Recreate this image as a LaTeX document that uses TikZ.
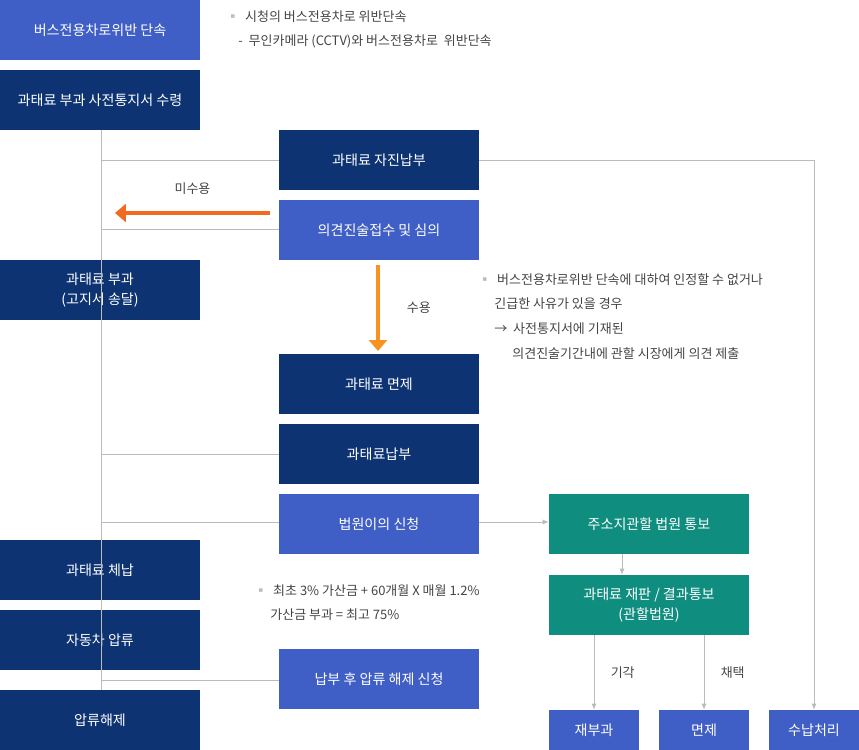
\documentclass[tikz,border=0pt]{standalone}
\usepackage{fontspec}
\setmainfont{Noto Sans CJK KR}
\usetikzlibrary{arrows.meta}
\definecolor{navy}{HTML}{0D3372}
\definecolor{lblue}{HTML}{3F5EC6}
\definecolor{teal}{HTML}{0F8E80}
\definecolor{orng}{HTML}{F26A21}
\definecolor{orng2}{HTML}{F7931E}
\definecolor{lgray}{HTML}{BBBBBB}
\definecolor{txt}{HTML}{444444}
\begin{document}
\begin{tikzpicture}[x=0.02cm,y=-0.02cm,
box/.style={minimum width=4cm,minimum height=1.2cm,text=white,font=\fontsize{8}{11}\selectfont,align=center,inner sep=0pt},
sbox/.style={minimum width=1.8cm,minimum height=0.8cm,text=white,font=\fontsize{8}{11}\selectfont,inner sep=0pt,fill=lblue},
note/.style={anchor=west,text=txt,font=\fontsize{7.4}{10}\selectfont,inner sep=0pt},
link/.style={draw=lgray,line width=0.4pt},
tip/.style={link,-{Latex[length=1.2mm,width=1mm]}}]
\useasboundingbox (0,0) rectangle (859,750);
% left column
\node[box,fill=lblue] (b1) at (100,30) {버스전용차로위반 단속};
\node[box,fill=navy] (b2) at (100,100) {과태료 부과 사전통지서 수령};
\node[box,fill=navy] (b5) at (100,290) {과태료 부과\\(고지서 송달)};
\node[box,fill=navy] (b10) at (100,570) {과태료 체납};
\node[box,fill=navy] (b12) at (100,640) {자동차 압류};
\node[box,fill=navy] (b14) at (100,720) {압류해제};
% middle column
\node[box,fill=navy] (b3) at (379,160) {과태료 자진납부};
\node[box,fill=lblue] (b4) at (379,230) {의견진술접수 및 심의};
\node[box,fill=navy] (b6) at (379,384) {과태료 면제};
\node[box,fill=navy] (b7) at (379,454) {과태료납부};
\node[box,fill=lblue] (b8) at (379,524) {법원이의 신청};
\node[box,fill=lblue] (b13) at (379,679) {납부 후 압류 해제 신청};
% right column
\node[box,fill=teal] (b9) at (649,524) {주소지관할 법원 통보};
\node[box,fill=teal] (b11) at (649,605) {과태료 재판 / 결과통보\\(관할법원)};
\node[sbox] (b15) at (594,730) {재부과};
\node[sbox] (b16) at (704,730) {면제};
\node[sbox] (b17) at (814,730) {수납처리};
% connectors
\coordinate (top) at (101,130);
\coordinate (bot) at (101,690);
\draw[link] (top) -- (bot);
\draw[link] (101,160) -- (b3.west);
\draw[link] (101,229) -- (b4.west |- 0,229);
\draw[link] (101,454) -- (b7.west);
\draw[link] (101,522) -- (b8.west |- 0,522);
\draw[link] (101,680) -- (b13.west |- 0,680);
\draw[tip] (b3.east) -| (b17.north);
\draw[tip] (b8.east |- 0,522) -- (b9.west |- 0,522);
\draw[tip] (b9.south -| 622,0) -- (b11.north -| 622,0);
\draw[tip] (b11.south -| b15.north) -- node[right=6pt,text=txt,font=\fontsize{7.4}{10}\selectfont]{기각} (b15.north);
\draw[tip] (b11.south -| b16.north) -- node[right=6pt,text=txt,font=\fontsize{7.4}{10}\selectfont]{채택} (b16.north);
\coordinate (ol) at (115,213);
\draw[orng,line width=2.2pt,-{Triangle[length=2.2mm,width=3.6mm]}] (270,213) -- node[above=6pt,text=txt,font=\fontsize{7.4}{10}\selectfont]{미수용} (ol);
\draw[orng2,line width=2.2pt,-{Triangle[length=2.2mm,width=3.6mm]}] (b4.south -| 378,0) ++(0,5) -- node[right=12pt,text=txt,font=\fontsize{7.4}{10}\selectfont]{수용} (378,351);
% notes
\node[note] (n1) at (226,17) {\textcolor{lgray}{▪}\ \ 시청의 버스전용차로 위반단속};
\node[note] (n2) at (238,41) {-\ \ 무인카메라 (CCTV)와 버스전용차로\ \ 위반단속};
\node[note] (n3) at (478,280) {\textcolor{lgray}{▪}\ \ 버스전용차로위반 단속에 대하여 인정할 수 없거나};
\node[note] (n4) at (494,304) {긴급한 사유가 있을 경우};
\node[note] (n5) at (494,329) {→\ \ 사전통지서에 기재된};
\node[note] (n6) at (512,354) {의견진술기간내에 관할 시장에게 의견 제출};
\node[note] (n7) at (254,591) {\textcolor{lgray}{▪}\ \ 최초 3\% 가산금 + 60개월 X 매월 1.2\%};
\node[note] (n8) at (270,615) {가산금 부과 = 최고 75\%};
\end{tikzpicture}
\end{document}
